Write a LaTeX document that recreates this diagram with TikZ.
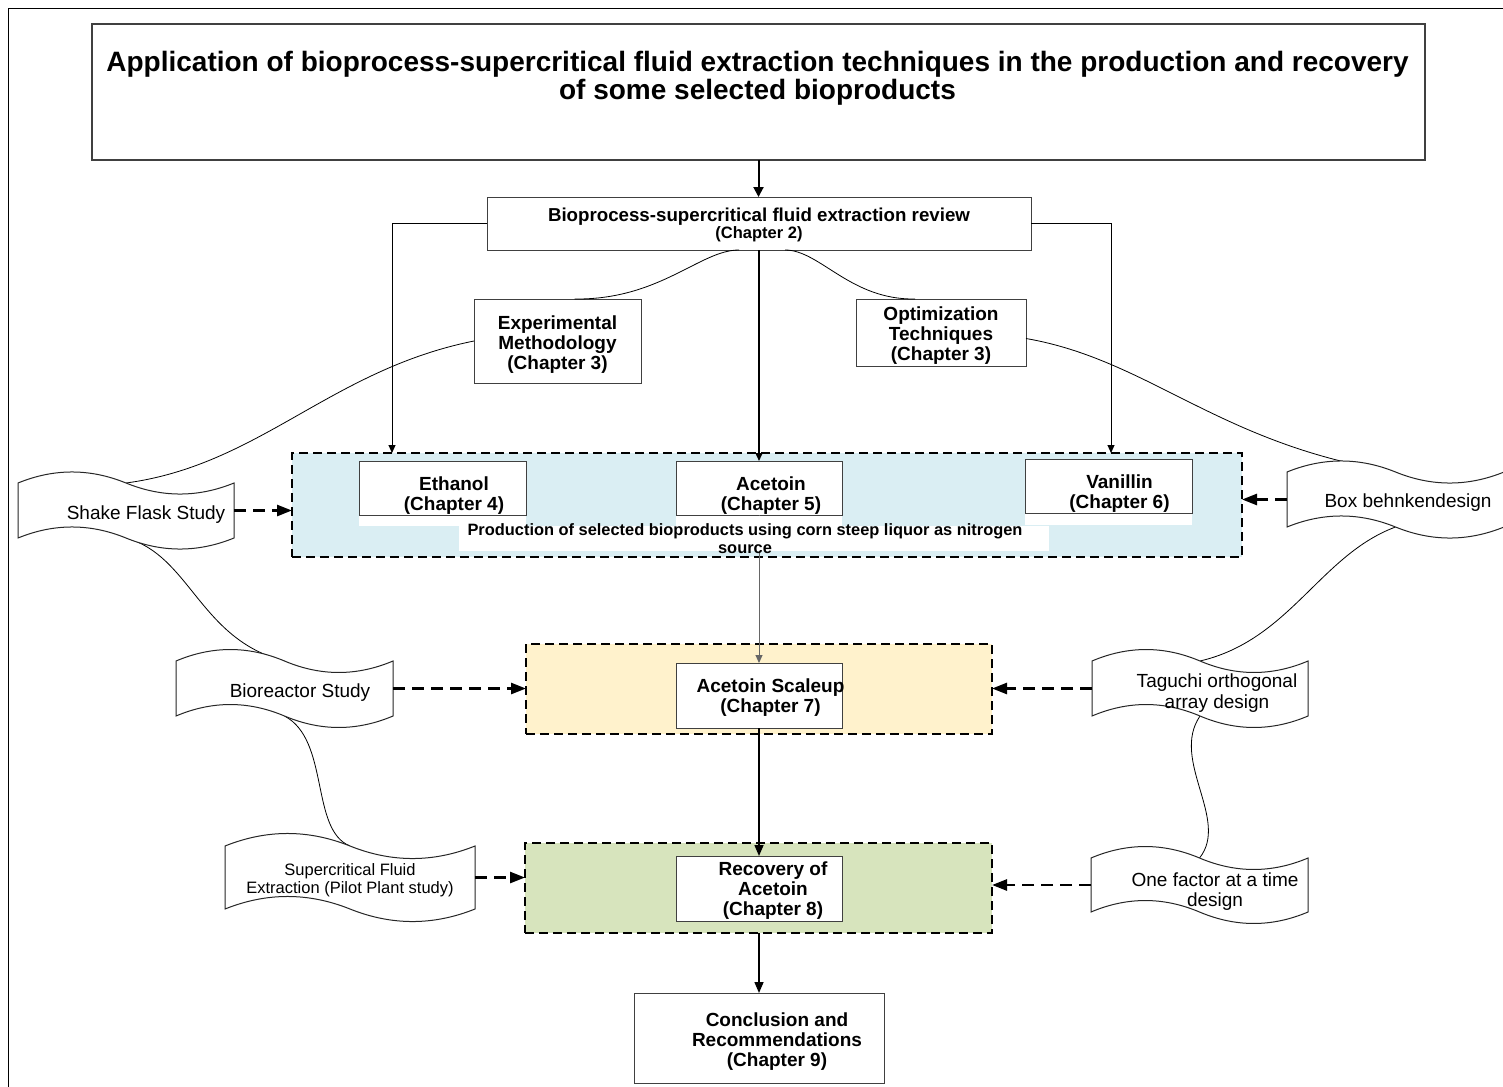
\documentclass[tikz,border=0pt]{standalone}
\usepackage{fontspec}
\setmainfont{Liberation Sans}
\usetikzlibrary{calc,arrows.meta}
\definecolor{bluefill}{RGB}{218,238,243}
\definecolor{yellowfill}{RGB}{255,242,204}
\definecolor{greenfill}{RGB}{215,228,189}

% outline of a paper-tape shape around an (empty) rectangular node:
% #1 node name, #2 control-point height of the wavy edges
\newcommand\tapeoutline[2]{%
  \draw[tapeline] (#1.north west)
    .. controls ($(#1.north west)!1/6!(#1.north east)+(0,-#2)$)
            and ($(#1.north west)!1/3!(#1.north east)+(0,-#2)$) .. (#1.north)
    .. controls ($(#1.north west)!2/3!(#1.north east)+(0,#2)$)
            and ($(#1.north west)!5/6!(#1.north east)+(0,#2)$) .. (#1.north east)
    -- (#1.south east)
    .. controls ($(#1.south west)!5/6!(#1.south east)+(0,#2)$)
            and ($(#1.south west)!2/3!(#1.south east)+(0,#2)$) .. (#1.south)
    .. controls ($(#1.south west)!1/3!(#1.south east)+(0,-#2)$)
            and ($(#1.south west)!1/6!(#1.south east)+(0,-#2)$) .. (#1.south west)
    -- cycle;}

\begin{document}
\begin{tikzpicture}[x=0.5pt,y=-0.5pt,
  chapterbox/.style={draw=black!75, line width=0.5pt, fill=white, inner sep=0pt, outer sep=0pt},
  titletext/.style={font=\bfseries\fontsize{14}{14}\selectfont, align=center, inner sep=0pt},
  boxtext/.style={font=\bfseries\fontsize{9.5}{10}\selectfont, align=center, inner sep=0pt},
  stage/.style={draw=black, line width=1pt, dash pattern=on 4.5pt off 2.5pt, inner sep=0pt, outer sep=0pt},
  tapebox/.style={inner sep=0pt, outer sep=0pt},
  tapeline/.style={draw=black!85, line width=0.5pt, fill=white},
  tapetext/.style={font=\fontsize{9.5}{10.5}\selectfont, align=center, inner sep=0pt},
  link/.style={draw=black, line width=0.5pt, -{Triangle[length=4pt,width=3.5pt]}},
  trunk/.style={draw=black, line width=0.75pt, -{Triangle[length=5.5pt,width=4.5pt]}},
  feed/.style={draw=black, line width=1.3pt, dash pattern=on 6pt off 3.5pt, -{Triangle[length=7.5pt,width=5.5pt]}},
  swoosh/.style={draw=black, line width=0.4pt}]

\useasboundingbox (0,0) rectangle (1503,1086);
\clip (0,0) rectangle (1503,1086);

% page frame
\draw[line width=0.5pt] (8,1100) -- (8,9) -- (1520,9);

% shaded stages
\node[stage, fill=bluefill, minimum width=475pt, minimum height=52pt] (products) at (767,505) {};
\node[stage, fill=yellowfill, minimum width=233pt, minimum height=45pt] (scaleupstage) at (759,689) {};
\node[stage, fill=greenfill, minimum width=233.5pt, minimum height=45pt] (recoverystage) at (758.5,888) {};

% title and review
\node[chapterbox, line width=0.6pt, minimum width=666.5pt, minimum height=68pt,
  label={[titletext,xshift=-0.5pt,yshift=7pt]center:{Application of bioprocess-supercritical fluid extraction techniques in the production and recovery\\of some selected bioproducts}}]
  (title) at (758.5,92) {};
\node[chapterbox, minimum width=272pt, minimum height=26.5pt,
  label={[align=center,inner sep=0pt,font=\bfseries\fontsize{8.25}{8.5}\selectfont,yshift=-0.5pt]center:{{\fontsize{9.35}{8.5}\selectfont Bioprocess-supercritical fluid extraction review}\\(Chapter 2)}}]
  (review) at (759,223.5) {};

% method boxes
\node[chapterbox, minimum width=83.5pt, minimum height=42pt,
  label={[boxtext,yshift=-2pt]center:{Experimental\\Methodology\\(Chapter 3)}}] (exp) at (557.5,341) {};
\node[chapterbox, minimum width=85pt, minimum height=33.5pt,
  label={[boxtext,yshift=-1.5pt]center:{Optimization\\Techniques\\(Chapter 3)}}] (opt) at (941,332.5) {};

% product boxes
\node[chapterbox, minimum width=83.5pt, minimum height=27pt,
  label={[boxtext,xshift=5.75pt,yshift=-3.75pt]center:{Ethanol\\(Chapter 4)}}] (ethanol) at (442.5,488) {};
\node[chapterbox, minimum width=83pt, minimum height=27pt,
  label={[boxtext,xshift=6pt,yshift=-3.75pt]center:{Acetoin\\(Chapter 5)}}] (acetoin5) at (759,488) {};
\node[chapterbox, minimum width=83.5pt, minimum height=27pt,
  label={[boxtext,xshift=5.5pt,yshift=-4pt]center:{Vanillin\\(Chapter 6)}}] (vanillin) at (1108.5,486) {};

% scale-up, recovery, conclusion
\node[chapterbox, minimum width=83pt, minimum height=32.5pt,
  label={[boxtext,xshift=5.75pt,yshift=-1.25pt]center:{Acetoin Scaleup\\(Chapter 7)}}] (scaleup) at (759,695.5) {};
\node[chapterbox, minimum width=83pt, minimum height=32.5pt,
  label={[boxtext,xshift=7pt,yshift=-1pt]center:{Recovery of\\Acetoin\\(Chapter 8)}}] (recovery) at (759,888.5) {};
\node[chapterbox, minimum width=125pt, minimum height=45pt,
  label={[boxtext,xshift=9pt,yshift=-1.75pt]center:{Conclusion and\\Recommendations\\(Chapter 9)}}] (conclusion) at (759,1038) {};

% link from the acetoin box down to the scale-up box (runs under the caption)
\draw[link, draw=black!60] (acetoin5.south) -- (scaleup.north);

% white strips below the product boxes
\fill[white] ($(ethanol.south west)+(0,0.6)$) rectangle ($(ethanol.south east)+(0,11)$);
\fill[white] ($(acetoin5.south west)+(0,0.6)$) rectangle ($(acetoin5.south east)+(0,11)$);
\fill[white] ($(vanillin.south west)+(0,0.6)$) rectangle ($(vanillin.south east)+(0,12)$);

% caption of the production stage
\node[fill=white, inner sep=0pt, minimum width=295pt, minimum height=12.5pt,
  label={[align=center,inner sep=0pt,font=\bfseries\fontsize{8.2}{9}\selectfont,xshift=-4.5pt]center:{Production of selected bioproducts using corn steep liquor as nitrogen\\source}}]
  (caption) at (754,538.5) {};

% main flow
\draw[draw=black, line width=1pt, -{Triangle[length=5pt,width=5pt]}] (title.south) -- (title.south |- review.north);
\draw[link] (review.west) -| ($(products.north west)+(100,0)$);
\draw[link] (review.east) -| ($(products.north east)+(-131,0)$);
\draw[link, line width=0.7pt] (review.south) -- (acetoin5.north);
\draw[trunk] (scaleup.south) -- (recovery.north);
\draw[trunk] (conclusion.north |- recoverystage.south) -- (conclusion.north);

% study and design sheets
\node[tapebox, minimum width=108pt, minimum height=27.5pt] (shake) at (126,510.5) {};
\node[tapebox, minimum width=108.5pt, minimum height=27.5pt] (bioreactor) at (284.5,688.5) {};
\node[tapebox, minimum width=125pt, minimum height=31.5pt] (supercritical) at (350,877.5) {};
\node[tapebox, minimum width=108.5pt, minimum height=27.5pt] (bb) at (1395.5,499.5) {};
\node[tapebox, minimum width=108pt, minimum height=27.5pt] (taguchi) at (1200,688.5) {};
\node[tapebox, minimum width=108.5pt, minimum height=27pt] (onefactor) at (1199.5,885) {};

% flowing connections between boxes and sheets
\draw[swoosh] ($(review.south)+(-20,0)$) .. controls (700,250) and (660,300) .. ($(exp.north)+(17,0)$);
\draw[swoosh] ($(review.south)+(26,0)$) .. controls (820,250) and (850,300) .. ($(opt.north)+(-26,0)$);
\draw[swoosh] (exp.west) .. controls (330,370) and (260,465) .. (shake.north);
\draw[swoosh] ($(opt.east)+(0,6)$) .. controls (1150,360) and (1220,445) .. (bb.north);
\draw[swoosh] (shake.south) .. controls (190,555) and (200,640) .. (bioreactor.north);
\draw[swoosh] (bb.south) .. controls (1320,555) and (1290,640) .. (taguchi.north);
\draw[swoosh] (bioreactor.south) .. controls (330,740) and (310,830) .. (supercritical.north);
\draw[swoosh] (taguchi.south) .. controls (1170,760) and (1230,820) .. (onefactor.north);

% sheet outlines and texts
\tapeoutline{shake}{14.7}
\tapeoutline{bioreactor}{15.3}
\tapeoutline{supercritical}{16.7}
\tapeoutline{bb}{14.7}
\tapeoutline{taguchi}{15.3}
\tapeoutline{onefactor}{15.3}
\node[tapetext] (shaketext) at ($(shake.center)+(20,4.5)$) {Shake Flask Study};
\node[tapetext] (bioreactortext) at ($(bioreactor.center)+(15.5,4.5)$) {Bioreactor Study};
\node[tapetext, font=\fontsize{8.25}{9}\selectfont] (supercriticaltext) at ($(supercritical.center)+(0,2.5)$) {Supercritical Fluid\\Extraction (Pilot Plant study)};
\node[tapetext] (bbtext) at ($(bb.center)+(12.5,3.5)$) {Box behnkendesign};
\node[tapetext] (taguchitext) at ($(taguchi.center)+(17,5)$) {Taguchi orthogonal\\array design};
\node[tapetext, font=\fontsize{9.5}{10}\selectfont] (onefactortext) at ($(onefactor.center)+(15.5,6.5)$) {One factor at a time\\design};

% dashed inputs into the stages
\draw[feed] (shake.east) -- (shake.east -| products.west);
\draw[feed] (bioreactor.east) -- (bioreactor.east -| scaleupstage.west);
\draw[feed] (supercritical.east) -- (supercritical.east -| recoverystage.west);
\draw[feed] (bb.west) -- (bb.west -| products.east);
\draw[feed] (taguchi.west) -- (taguchi.west -| scaleupstage.east);
\draw[feed] (onefactor.west) -- (onefactor.west -| recoverystage.east);

\end{tikzpicture}
\end{document}
